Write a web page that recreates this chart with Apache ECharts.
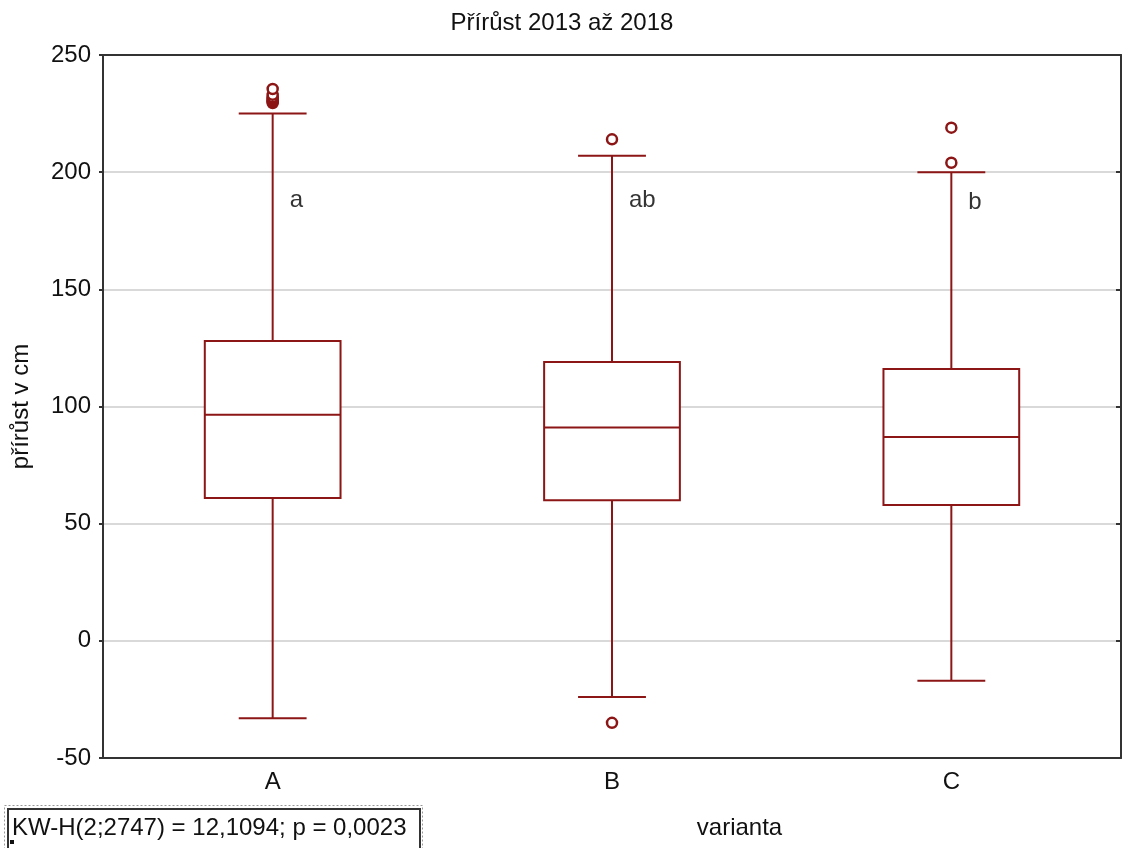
<!DOCTYPE html>
<html><head><meta charset="utf-8">
<script src="https://cdn.jsdelivr.net/npm/echarts@6/dist/echarts.min.js"></script>
<style>html,body{margin:0;padding:0;background:#fff}#c{width:1124px;height:848px}</style>
</head><body><div id="c"></div>
<script>
const categories = ['A', 'B', 'C'];
// [min whisker, Q1, median, Q3, max whisker]
const boxA = [-33, 61, 96.5, 128, 225];
const boxB = [-24, 60, 91, 119, 207];
const boxC = [-17, 58, 87, 116, 200];
const outliersA = [229.5, 230, 230.5, 231, 231.5, 232, 233, 235.5];
const outliersB = [214, -35];
const outliersC = [219, 204];
const groupLetters = ['a', 'ab', 'b'];
const letterY = [188, 188, 187];
const yTicks = [-50, 0, 50, 100, 150, 200, 250];

const RED = '#8c1515';
const FONT = 'Liberation Sans, Arial, sans-serif';
const FS = 24;

const boxes = [boxA, boxB, boxC].map((b, i) => [i].concat(b));
const outliers = [];
[outliersA, outliersB, outliersC].forEach((arr, i) => arr.forEach(v => outliers.push([i, v])));
const letters = groupLetters.map((t, i) => [i, letterY[i], t]);

const chart = echarts.init(document.getElementById('c'), null, {renderer: 'canvas'});
chart.setOption({
  animation: false,
  backgroundColor: '#fff',
  title: {
    text: 'Přírůst 2013 až 2018', left: 'center', top: 6,
    textStyle: {fontFamily: FONT, fontSize: FS, fontWeight: 'normal', color: '#111'}
  },
  grid: {left: 103, right: 3, top: 55, bottom: 90},
  xAxis: [{
    type: 'category', data: categories, position: 'bottom',
    name: 'varianta', nameLocation: 'middle', nameGap: 58,
    nameTextStyle: {fontFamily: FONT, fontSize: FS, color: '#111', padding: [0, 0, 0, 255]},
    axisLine: {onZero: false, lineStyle: {color: '#333', width: 2}},
    axisTick: {inside: true, alignWithLabel: true, length: 5, lineStyle: {color: '#333', width: 2}},
    axisLabel: {fontFamily: FONT, fontSize: FS, color: '#111', margin: 12},
    splitLine: {show: false}
  }, {
    type: 'category', data: categories, position: 'top',
    axisLine: {onZero: false, lineStyle: {color: '#333', width: 2}},
    axisTick: {inside: true, alignWithLabel: true, length: 5, lineStyle: {color: '#333', width: 2}},
    axisLabel: {show: false}
  }],
  yAxis: [{
    type: 'value', min: -50, max: 250, interval: 50, position: 'left',
    name: 'přírůst v cm', nameLocation: 'middle', nameGap: 70,
    nameTextStyle: {fontFamily: FONT, fontSize: FS, color: '#111'},
    axisLine: {show: true, onZero: false, lineStyle: {color: '#333', width: 2}},
    axisTick: {show: true, inside: false, length: 4, lineStyle: {color: '#333', width: 2}},
    axisLabel: {fontFamily: FONT, fontSize: FS, color: '#111', margin: 12,
      formatter: v => yTicks.includes(v) ? String(v) : ''},
    splitLine: {show: true, lineStyle: {color: '#d9d9d9', width: 2}}
  }, {
    type: 'value', min: -50, max: 250, interval: 50, position: 'right',
    axisLine: {show: true, onZero: false, lineStyle: {color: '#333', width: 2}},
    axisTick: {show: true, inside: true, length: 5, lineStyle: {color: '#333', width: 2}},
    axisLabel: {show: false}, splitLine: {show: false}
  }],
  series: [{
    type: 'custom',
    data: boxes,
    encode: {x: 0, y: [1, 2, 3, 4, 5]},
    renderItem: function (params, api) {
      const i = api.value(0);
      const band = api.size([1, 0])[0];
      const bw = band * 0.4, cw = band * 0.2;
      const pMin = api.coord([i, api.value(1)]);
      const pQ1 = api.coord([i, api.value(2)]);
      const pMed = api.coord([i, api.value(3)]);
      const pQ3 = api.coord([i, api.value(4)]);
      const pMax = api.coord([i, api.value(5)]);
      const x = pMin[0];
      const st = {stroke: RED, lineWidth: 2, fill: null};
      return {type: 'group', children: [
        {type: 'line', shape: {x1: x, y1: pMax[1], x2: x, y2: pQ3[1]}, style: st},
        {type: 'line', shape: {x1: x, y1: pQ1[1], x2: x, y2: pMin[1]}, style: st},
        {type: 'line', shape: {x1: x - cw / 2, y1: pMax[1], x2: x + cw / 2, y2: pMax[1]}, style: st},
        {type: 'line', shape: {x1: x - cw / 2, y1: pMin[1], x2: x + cw / 2, y2: pMin[1]}, style: st},
        {type: 'rect', shape: {x: x - bw / 2, y: pQ3[1], width: bw, height: pQ1[1] - pQ3[1]},
          style: {stroke: RED, lineWidth: 2, fill: '#fff'}},
        {type: 'line', shape: {x1: x - bw / 2, y1: pMed[1], x2: x + bw / 2, y2: pMed[1]}, style: st}
      ]};
    },
    z: 3
  }, {
    type: 'scatter', data: outliers, symbol: 'circle', symbolSize: 10,
    itemStyle: {color: '#fff', borderColor: RED, borderWidth: 2.5, opacity: 1}, z: 4
  }, {
    type: 'scatter', data: letters, symbolSize: 0,
    label: {show: true, position: 'right', distance: 17, formatter: p => p.value[2],
      fontFamily: FONT, fontSize: FS, color: '#000'}, z: 5
  }],
  graphic: [{
    type: 'rect', left: 4, top: 805, shape: {width: 418, height: 44},
    style: {fill: '#fff', stroke: '#999', lineWidth: 1, lineDash: [2, 2]}
  }, {
    type: 'rect', left: 7, top: 808, shape: {width: 412, height: 40},
    style: {fill: '#fff', stroke: '#333', lineWidth: 2}
  }, {
    type: 'rect', left: 10, top: 840, shape: {width: 4, height: 4}, style: {fill: '#111'}
  }, {
    type: 'text', left: 12, top: 816,
    style: {text: 'KW-H(2;2747) = 12,1094; p = 0,0023', fontFamily: FONT, fontSize: FS, fill: '#111'}
  }]
});
</script></body></html>
